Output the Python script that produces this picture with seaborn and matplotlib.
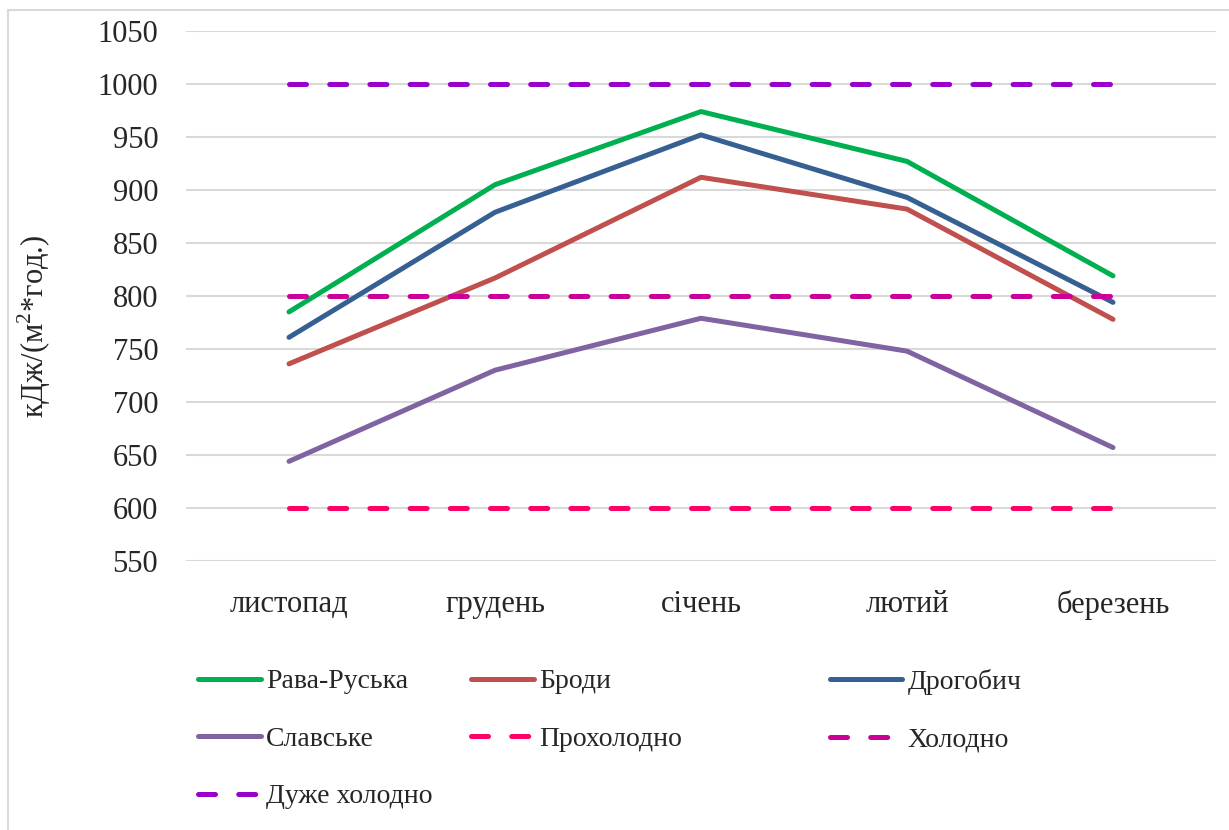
import matplotlib
matplotlib.use("Agg")
import matplotlib.pyplot as plt
import seaborn as sns
import pandas as pd
from matplotlib.lines import Line2D

months = ["листопад", "грудень", "січень", "лютий", "березень"]
rava = [785, 905, 974, 927, 819]
brody = [736, 817, 912, 882, 778]
drohobych = [761, 879, 952, 893, 794]
slavske = [644, 730, 779, 748, 657]
prokholodno = [600, 600, 600, 600, 600]
kholodno = [800, 800, 800, 800, 800]
duzhe = [1000, 1000, 1000, 1000, 1000]

series = [
    ("Рава-Руська", rava, "#00B050", "-"),
    ("Броди", brody, "#C0504D", "-"),
    ("Дрогобич", drohobych, "#376092", "-"),
    ("Славське", slavske, "#8064A2", "-"),
    ("Прохолодно", prokholodno, "#FF0066", "--"),
    ("Холодно", kholodno, "#CC0099", "--"),
    ("Дуже холодно", duzhe, "#9900CC", "--"),
]

sns.set_theme(style="white")
plt.rcParams["font.family"] = ["Liberation Serif", "DejaVu Serif"]
plt.rcParams["mathtext.fontset"] = "custom"
plt.rcParams["mathtext.rm"] = "Liberation Serif"

fig = plt.figure(figsize=(12.29, 8.30), dpi=100)
ax = fig.add_axes([186 / 1229, 1 - 561 / 830, 1030 / 1229, 530 / 830])

LW = 3.6
DASH = (3.4, 4.64)
handles = {}
for name, vals, color, ls in series:
    df = pd.DataFrame({"month": months, "value": vals})
    sns.lineplot(x="month", y="value", data=df, ax=ax, color=color, linewidth=LW,
                 sort=False, legend=False, zorder=3)
    line = ax.lines[-1]
    line.set_solid_capstyle("round")
    line.set_dash_capstyle("round")
    if ls == "--":
        line.set_dashes(DASH)
    h = Line2D([], [], color=color, linewidth=LW, solid_capstyle="round",
               dash_capstyle="round")
    if ls == "--":
        h.set_dashes(DASH)
    handles[name] = h

ax.set_xlim(-0.5, 4.5)
ax.set_ylim(550, 1050)
ax.set_yticks(range(550, 1051, 50))
ax.set_xlabel("")
ax.set_ylabel(r"кДж/(м$^{\mathregular{2}}$*год.)", fontsize=22)
ax.yaxis.set_label_coords(-(186 - 53) / 1030, (561 - 326) / 530)
ax.grid(axis="y", color="#D9D9D9", linewidth=1.5, zorder=0)
ax.grid(axis="x", visible=False)
for s in ax.spines.values():
    s.set_visible(False)
ax.tick_params(axis="both", length=0, labelsize=22)
ax.tick_params(axis="y", pad=20)
ax.tick_params(axis="x", pad=21)

# legend columns
cols = [
    (["Рава-Руська", "Славське", "Дуже холодно"], 198, 2.25),
    (["Броди", "Прохолодно"], 471, 2.25),
    (["Дрогобич", "Холодно"], 830, 2.6),
]
for names, xpx, hl in cols:
    fig.legend([handles[n] for n in names], names, loc="upper left",
               bbox_to_anchor=(xpx / 1229, 1 - 669 / 830), frameon=False,
               fontsize=20, handlelength=hl, handletextpad=0.2,
               labelspacing=1.15, borderaxespad=0, borderpad=0)

# outer border (top and left)
fig.add_artist(Line2D([8 / 1229, 1], [1 - 10 / 830, 1 - 10 / 830],
                      transform=fig.transFigure, color="#D9D9D9", linewidth=1.5))
fig.add_artist(Line2D([8 / 1229, 8 / 1229], [0, 1 - 10 / 830],
                      transform=fig.transFigure, color="#D9D9D9", linewidth=1.5))

fig.savefig("out.png", dpi=100, facecolor="white")
